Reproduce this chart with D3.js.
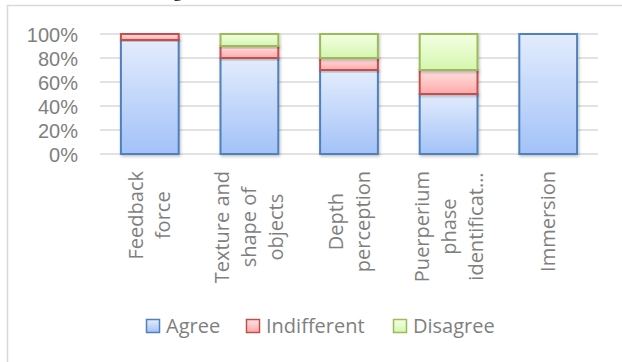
<!DOCTYPE html>
<html>
<head>
<meta charset="utf-8">
<script src="https://cdn.jsdelivr.net/npm/d3@7"></script>
<style>
  body { margin: 0; background: #fff; }
  svg { display: block; font-family: "Open Sans", sans-serif; }
  .tick text { fill: #7f7f7f; font-size: 20px; }
</style>
</head>
<body>
<div id="chart"></div>
<script>
var categories = ["Feedback force", "Texture and shape of objects", "Depth perception", "Puerperium phase identification", "Immersion"];
// wrapped lines as shown on the axis
var categoryLines = [
  ["Feedback", "force"],
  ["Texture and", "shape of", "objects"],
  ["Depth", "perception"],
  ["Puerperium", "phase", "identificat…"],
  ["Immersion"]
];
var seriesNames = ["Agree", "Indifferent", "Disagree"];
var agree = [95, 80, 70, 50, 100];
var indifferent = [5, 10, 10, 20, 0];
var disagree = [0, 10, 20, 30, 0];
var yTicks = [0, 20, 40, 60, 80, 100];

var svgWidth = 622;
var svgHeight = 362;
var margin = { top: 34, right: 24, bottom: 208, left: 100 };
var width = svgWidth - margin.left - margin.right;
var height = svgHeight - margin.top - margin.bottom;

var colors = {
  Agree: { top: "#e3ecfd", bottom: "#a3c2f8", stroke: "#4f81bd" },
  Indifferent: { top: "#ffe2e2", bottom: "#ffa9a9", stroke: "#c0504d" },
  Disagree: { top: "#f3ffe2", bottom: "#d5f6ae", stroke: "#9bbb59" }
};

var svg = d3.select("#chart")
  .append("svg")
  .attr("width", svgWidth)
  .attr("height", svgHeight);

var defs = svg.append("defs");
seriesNames.forEach(function(name) {
  var g = defs.append("linearGradient")
    .attr("id", "grad-" + name)
    .attr("x1", 0).attr("y1", 0).attr("x2", 0).attr("y2", 1);
  g.append("stop").attr("offset", "0%").attr("stop-color", colors[name].top);
  g.append("stop").attr("offset", "100%").attr("stop-color", colors[name].bottom);
});
var shadow = defs.append("filter").attr("id", "shadow")
  .attr("x", "-20%").attr("y", "-20%").attr("width", "140%").attr("height", "140%");
shadow.append("feDropShadow").attr("dx", 1).attr("dy", 1.5).attr("stdDeviation", 1.5)
  .attr("flood-color", "#000").attr("flood-opacity", 0.25);

// chart frame (cut off at right and bottom in the original)
svg.append("rect")
  .attr("x", 7.5).attr("y", 5.5)
  .attr("width", 640).attr("height", 400)
  .attr("fill", "none")
  .attr("stroke", "#d9d9d9")
  .attr("stroke-width", 1.5);

// piece of the clipped title
svg.append("text")
  .attr("x", 173).attr("y", -3)
  .attr("fill", "#000")
  .style("font-family", "Liberation Serif, serif")
  .style("font-size", "18px")
  .text("g");

var chartGroup = svg.append("g")
  .attr("transform", `translate(${margin.left}, ${margin.top})`);

var x = d3.scaleBand()
  .domain(categories)
  .range([0, width])
  .paddingInner(0.42)
  .paddingOuter(0.21);

var y = d3.scaleLinear()
  .domain([0, 100])
  .range([height, 0]);

// gridlines
chartGroup.append("g")
  .selectAll("line")
  .data(yTicks)
  .enter()
  .append("line")
  .attr("x1", 0).attr("x2", width)
  .attr("y1", d => y(d)).attr("y2", d => y(d))
  .attr("stroke", "#d9d9d9")
  .attr("stroke-width", 1.5);

// y axis labels
var leftAxis = d3.axisLeft(y)
  .tickValues(yTicks)
  .tickSize(0)
  .tickPadding(22)
  .tickFormat(d => d + "%");
chartGroup.append("g")
  .call(leftAxis)
  .call(g => g.select(".domain").remove())
  .selectAll("text")
  .attr("dy", "0.36em");

// stacked data
var rows = categories.map(function(c, i) {
  return { category: c, Agree: agree[i], Indifferent: indifferent[i], Disagree: disagree[i] };
});
var stacked = d3.stack().keys(seriesNames)(rows);

var layers = chartGroup.selectAll(".layer")
  .data(stacked)
  .enter()
  .append("g")
  .attr("class", "layer");

layers.selectAll("rect")
  .data(d => d.map(p => ({ key: d.key, p: p })))
  .enter()
  .filter(d => d.p[1] - d.p[0] > 0)
  .append("rect")
  .attr("x", d => x(d.p.data.category))
  .attr("y", d => y(d.p[1]))
  .attr("width", x.bandwidth())
  .attr("height", d => y(d.p[0]) - y(d.p[1]))
  .attr("fill", d => `url(#grad-${d.key})`)
  .attr("stroke", d => colors[d.key].stroke)
  .attr("stroke-width", 2)
  .attr("filter", "url(#shadow)");

// category labels, rotated and wrapped
var labelTop = height + 136;
var lineGap = 27;
var labels = chartGroup.append("g")
  .selectAll("g")
  .data(categories)
  .enter()
  .append("g");

labels.each(function(c, i) {
  var lines = categoryLines[i];
  var g = d3.select(this);
  var tmp = g.append("text").style("font-size", "20px");
  var maxW = 0;
  lines.forEach(function(l) {
    tmp.text(l);
    maxW = Math.max(maxW, tmp.node().getComputedTextLength());
  });
  tmp.remove();
  var cx = x(c) + x.bandwidth() / 2;
  var cy = height + 17 + maxW / 2;
  var n = lines.length;
  lines.forEach(function(l, k) {
    var off = (k - (n - 1) / 2) * lineGap;
    g.append("text")
      .attr("transform", `translate(${cx + off}, ${cy}) rotate(-90)`)
      .attr("text-anchor", "middle")
      .attr("dy", "0.35em")
      .attr("fill", "#7f7f7f")
      .style("font-size", "20px")
      .text(l);
  });
});

// legend
var legendX = [146, 246, 393];
var legend = svg.append("g")
  .selectAll("g")
  .data(seriesNames)
  .enter()
  .append("g")
  .attr("transform", (d, i) => `translate(${legendX[i]}, 319)`);

legend.append("rect")
  .attr("x", 0.5).attr("y", 0.5)
  .attr("width", 13).attr("height", 13)
  .attr("fill", d => `url(#grad-${d})`)
  .attr("stroke", d => colors[d].stroke)
  .attr("stroke-width", 1.5);

legend.append("text")
  .attr("x", 20)
  .attr("y", 7)
  .attr("dy", "0.35em")
  .attr("fill", "#7f7f7f")
  .style("font-size", "20px")
  .text(d => d);
</script>
</body>
</html>
